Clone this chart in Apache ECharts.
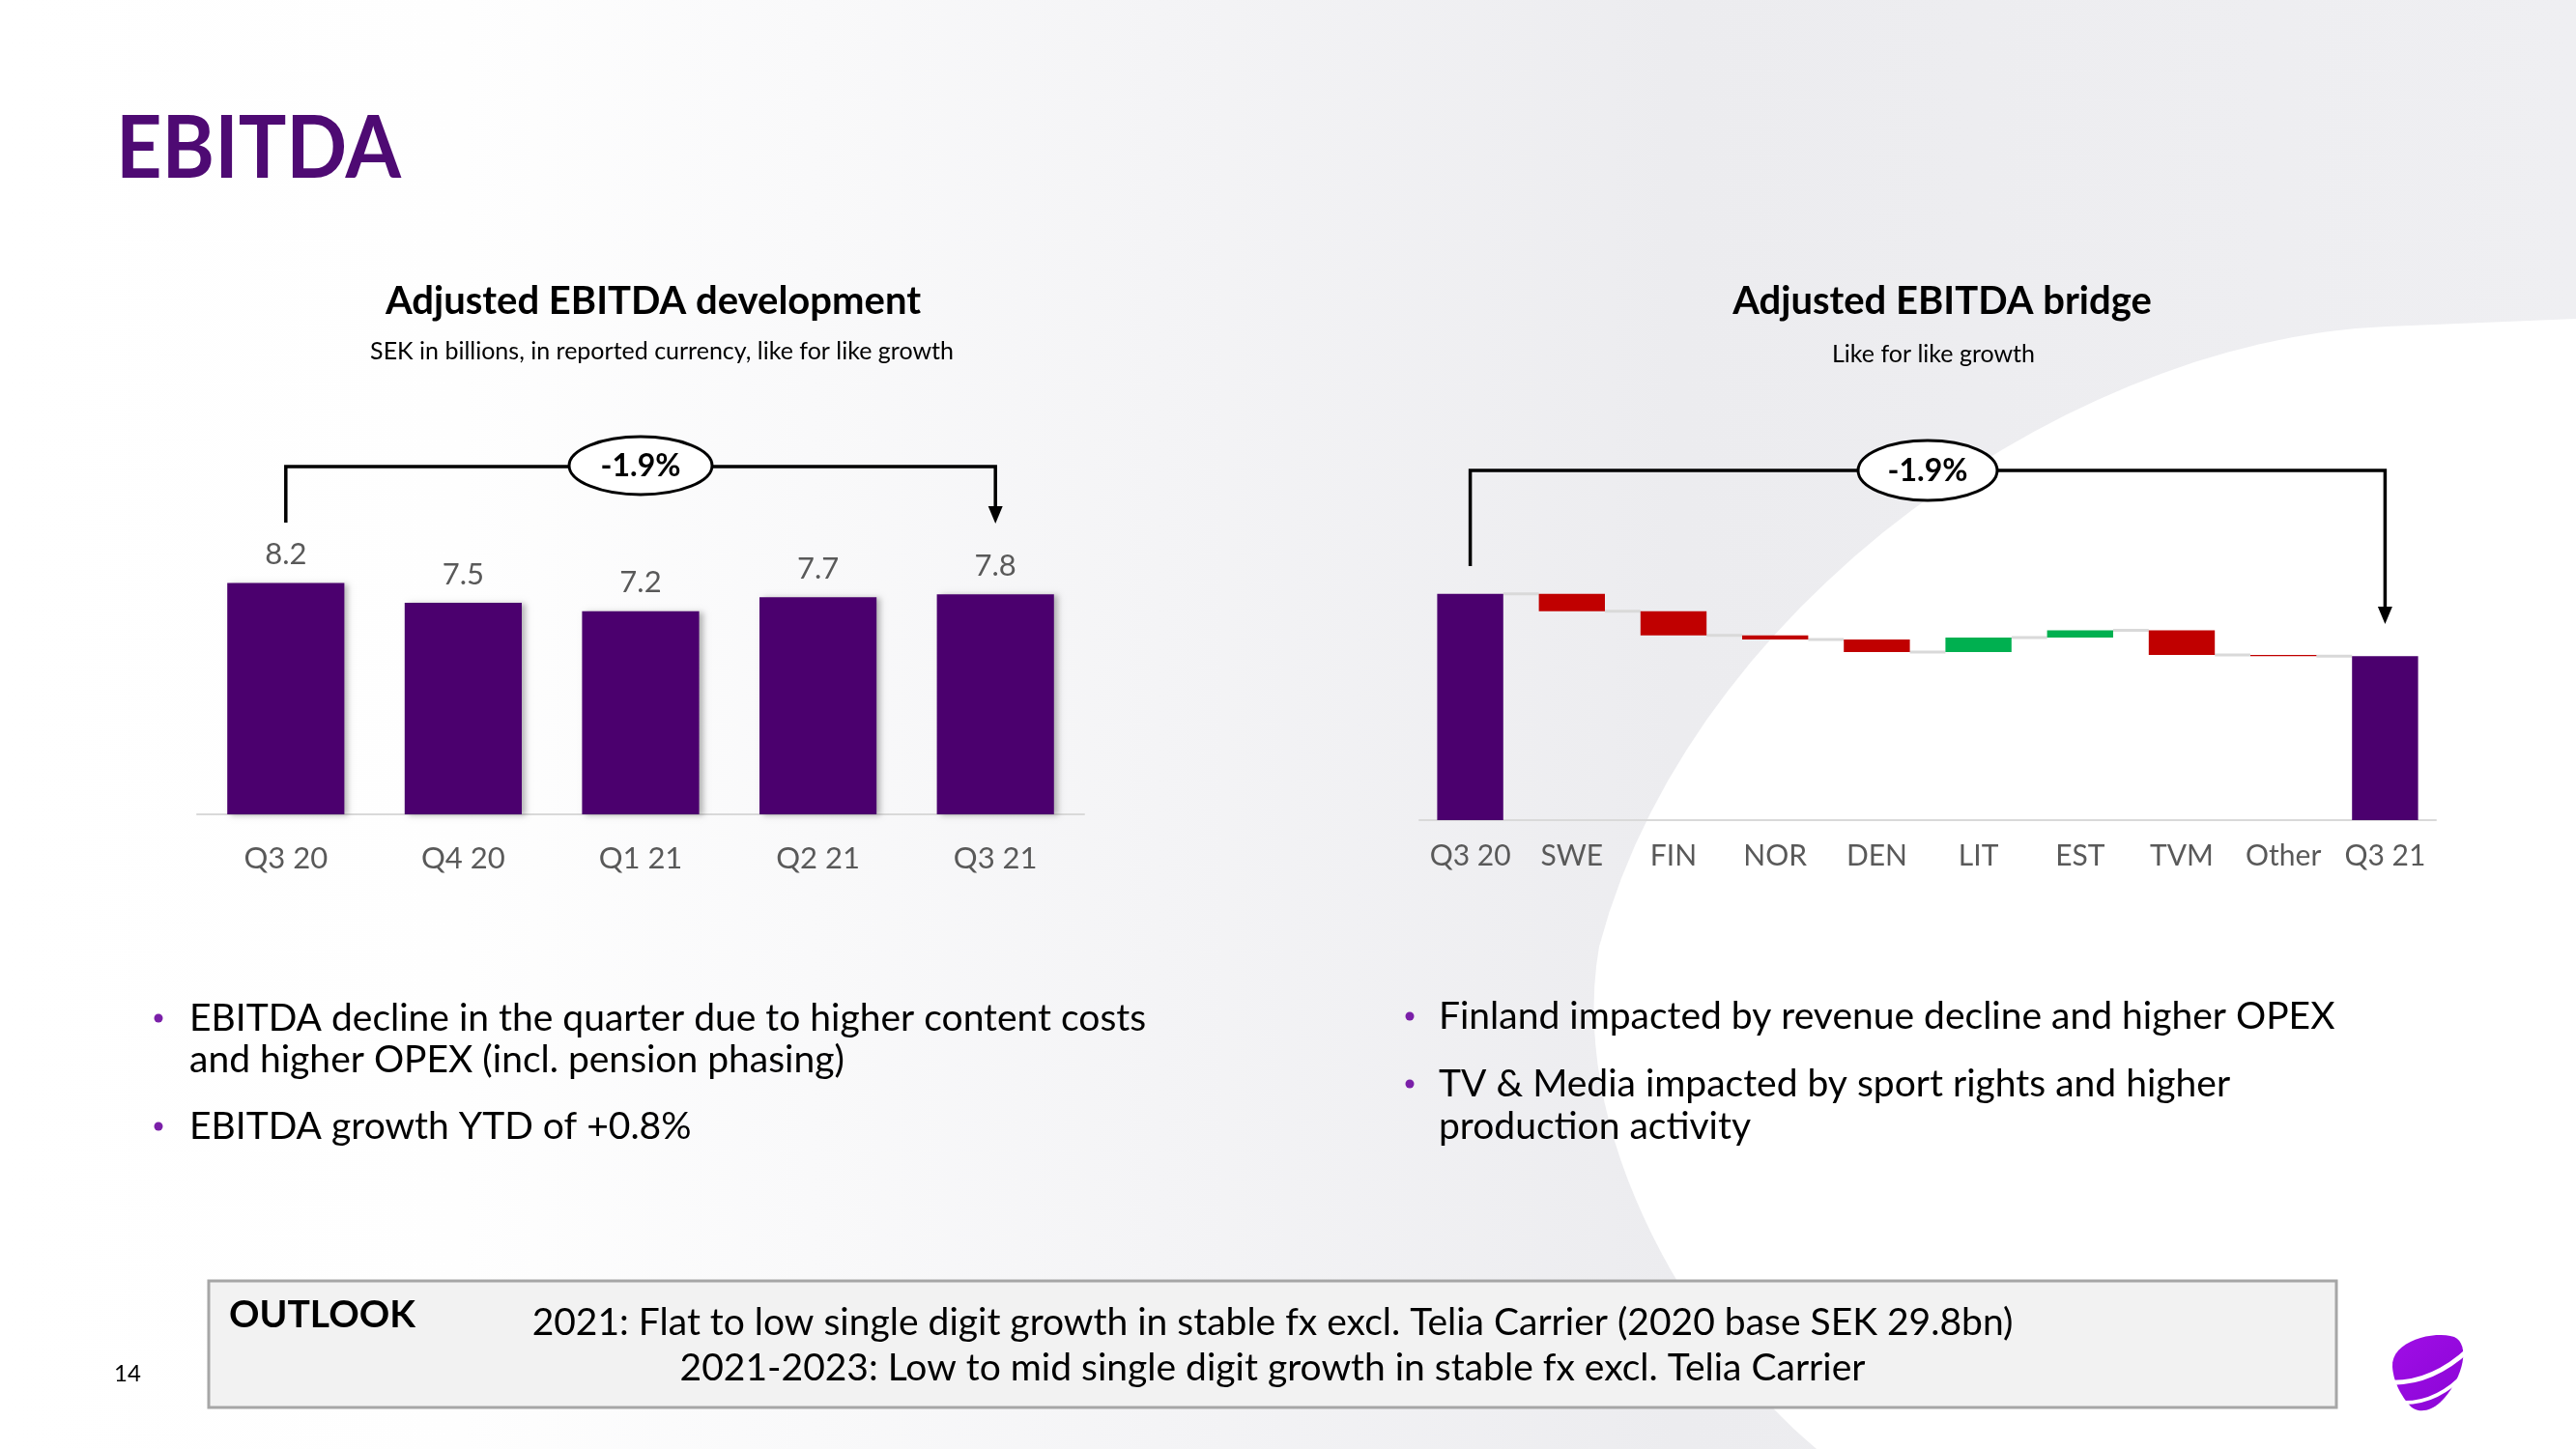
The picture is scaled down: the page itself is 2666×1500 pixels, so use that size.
<!DOCTYPE html>
<html><head><meta charset="utf-8">
<script src="https://cdn.jsdelivr.net/npm/echarts@6/dist/echarts.min.js"></script>
<style>html,body{margin:0;padding:0;background:#fff}#c{width:2666px;height:1500px}</style>
</head><body><div id="c"></div>
<script>
// ---------- data ----------
const devCategories = ['Q3 20', 'Q4 20', 'Q1 21', 'Q2 21', 'Q3 21'];
const devValues = [8.2, 7.5, 7.2, 7.7, 7.8];
const bridgeCategories = ['Q3 20', 'SWE', 'FIN', 'NOR', 'DEN', 'LIT', 'EST', 'TVM', 'Other', 'Q3 21'];
const bridgeStart = 8200;                                   // SEK m (estimated)
const bridgeDeltas = [-43, -60, -10, -31, 36, 18, -61, -3]; // SEK m (estimated)
const bridgeEnd = 8046;
const growthLabel = '-1.9%';
const leftBullets = [
  ['EBITDA decline in the quarter due to higher content costs', 'and higher OPEX (incl. pension phasing)'],
  ['EBITDA growth YTD of +0.8%']
];
const rightBullets = [
  ['Finland impacted by revenue decline and higher OPEX'],
  ['TV & Media impacted by sport rights and higher', 'production activity']
];
const outlookLines = [
  '2021: Flat to low single digit growth in stable fx excl. Telia Carrier (2020 base SEK 29.8bn)',
  '2021-2023: Low to mid single digit growth in stable fx excl. Telia Carrier'
];

// ---------- derived waterfall pieces ----------
const PURPLE = '#4b006e', RED = '#c00000', GREEN = '#00b050', GRAY = '#595959';
const FONT = 'Lato';
const wfBase = [0], wfRed = [0], wfGreen = [0], wfTotal = [bridgeStart], wfLevels = [[0, bridgeStart]];
let run = bridgeStart;
bridgeDeltas.forEach((d, i) => {
  const next = run + d;
  wfBase.push(Math.min(run, next));
  wfRed.push(d < 0 ? -d : 0);
  wfGreen.push(d > 0 ? d : 0);
  wfTotal.push(0);
  run = next;
  wfLevels.push([i + 1, run]);
});
wfBase.push(0); wfRed.push(0); wfGreen.push(0); wfTotal.push(bridgeEnd);

const chart = echarts.init(document.getElementById('c'), null, {width: 2666, height: 1500});
const BW = '65%';
chart.setOption({
  animation: false,
  grid: [
    {left: 204, width: 918, top: 551, height: 292},
    {left: 1469, width: 1052, top: 552, height: 297}
  ],
  xAxis: [
    {type: 'category', gridIndex: 0, data: devCategories,
     axisLine: {lineStyle: {color: '#d9d9d9', width: 2}}, axisTick: {show: false},
     axisLabel: {color: GRAY, fontSize: 31, fontFamily: FONT, margin: 30}},
    {type: 'category', gridIndex: 1, data: bridgeCategories,
     axisLine: {lineStyle: {color: '#d9d9d9', width: 2}}, axisTick: {show: false},
     axisLabel: {color: GRAY, fontSize: 30, fontFamily: FONT, margin: 22, interval: 0}}
  ],
  yAxis: [
    {type: 'value', gridIndex: 0, min: 0, max: 10, show: false, splitLine: {show: false}},
    {type: 'value', gridIndex: 1, min: 7640, max: 8350, show: false, splitLine: {show: false}}
  ],
  series: [
    {type: 'bar', xAxisIndex: 0, yAxisIndex: 0, data: devValues, barWidth: '66%',
     itemStyle: {color: PURPLE, shadowColor: 'rgba(0,0,0,0.28)', shadowBlur: 6, shadowOffsetX: 4, shadowOffsetY: 1},
     label: {show: true, position: 'top', distance: 14, color: GRAY, fontSize: 31, fontFamily: FONT,
             formatter: p => p.value.toFixed(1)}},
    {type: 'bar', name: 'base', xAxisIndex: 1, yAxisIndex: 1, stack: 'wf', data: wfBase, barWidth: BW, clip: true,
     itemStyle: {color: 'rgba(0,0,0,0)'}},
    {type: 'bar', name: 'decrease', xAxisIndex: 1, yAxisIndex: 1, stack: 'wf', data: wfRed, barWidth: BW, clip: true,
     itemStyle: {color: RED}},
    {type: 'bar', name: 'increase', xAxisIndex: 1, yAxisIndex: 1, stack: 'wf', data: wfGreen, barWidth: BW, clip: true,
     itemStyle: {color: GREEN}},
    {type: 'bar', name: 'total', xAxisIndex: 1, yAxisIndex: 1, stack: 'wf', data: wfTotal, barWidth: BW, clip: true,
     itemStyle: {color: PURPLE}},
    {type: 'custom', xAxisIndex: 1, yAxisIndex: 1, data: wfLevels.slice(0, bridgeCategories.length - 1), z: 1,
     renderItem: (params, api) => {
       const i = api.value(0), lvl = api.value(1);
       const p1 = api.coord([i, lvl]), p2 = api.coord([i + 1, lvl]);
       const hw = api.size([1, 0])[0] * 0.65 / 2;
       return {type: 'line', shape: {x1: p1[0] + hw, y1: p1[1], x2: p2[0] - hw, y2: p1[1]},
               style: {stroke: '#d9d9d9', lineWidth: 3}};
     }}
  ]
});

// ---------- decorations ----------
function bez(p0, p1, p2, p3, n) {
  const pts = [];
  for (let k = 0; k <= n; k++) {
    const t = k / n, u = 1 - t;
    pts.push([u*u*u*p0[0] + 3*u*u*t*p1[0] + 3*u*t*t*p2[0] + t*t*t*p3[0],
              u*u*u*p0[1] + 3*u*u*t*p1[1] + 3*u*t*t*p2[1] + t*t*t*p3[1]]);
  }
  return pts;
}
const whiteShape = [[2666, 330], [2470, 338]]
  .concat(bez([2470, 338], [2150, 350], [1750, 620], [1655, 980], 30))
  .concat(bez([1655, 980], [1620, 1180], [1760, 1400], [1880, 1500], 30))
  .concat([[2666, 1500]]);
const pebble = []
  .concat(bez([2476, 1415], [2474, 1388], [2520, 1377], [2540, 1384], 16))
  .concat(bez([2540, 1384], [2557, 1392], [2549, 1425], [2530, 1447], 16))
  .concat(bez([2530, 1447], [2519, 1460], [2503, 1465], [2494, 1455], 16))
  .concat(bez([2494, 1455], [2485, 1445], [2477, 1430], [2476, 1415], 16));

function txt(text, x, y, font, fill, align, sx) {
  return {type: 'text', x: x, y: y, z: 10, scaleX: sx || 1,
          style: {text: text, font: font, fill: fill || '#000', textAlign: align || 'left', textVerticalAlign: 'middle'}};
}
function bracket(x0, x1, yb, yt, ytip, ey, rx, ry) {
  const cx = (x0 + x1) / 2;
  return [
    {type: 'polyline', z: 10, shape: {points: [[x0, yb], [x0, yt], [x1, yt], [x1, ytip - 16]]},
     style: {stroke: '#000', lineWidth: 3.5, fill: null}},
    {type: 'polygon', z: 10, shape: {points: [[x1 - 7.5, ytip - 18], [x1 + 7.5, ytip - 18], [x1, ytip]]},
     style: {fill: '#000'}},
    {type: 'ellipse', z: 11, shape: {cx: cx, cy: ey, rx: rx, ry: ry},
     style: {fill: '#fff', stroke: '#000', lineWidth: 3}},
    {type: 'text', z: 12, x: cx, y: ey + 1,
     style: {text: growthLabel, font: 'bold 32px ' + FONT, fill: '#000', textAlign: 'center', textVerticalAlign: 'middle'}}
  ];
}

const lx0 = chart.convertToPixel({xAxisIndex: 0}, devCategories[0]);
const lx1 = chart.convertToPixel({xAxisIndex: 0}, devCategories[devCategories.length - 1]);
const rx0 = chart.convertToPixel({xAxisIndex: 1}, bridgeCategories[0]);
const rx1 = chart.convertToPixel({xAxisIndex: 1}, bridgeCategories[bridgeCategories.length - 1]);

const els = [
  {type: 'rect', z: -20, shape: {x: 0, y: 0, width: 2666, height: 1500},
   style: {fill: new echarts.graphic.LinearGradient(0, 0, 1, 0, [
     {offset: 0, color: '#ffffff'}, {offset: 0.18, color: '#fefefe'},
     {offset: 0.45, color: '#f4f4f6'}, {offset: 0.65, color: '#ececef'}, {offset: 1, color: '#efeff2'}])}},
  {type: 'polygon', z: -19, shape: {points: whiteShape}, style: {fill: '#ffffff'}},
  txt('EBITDA', 120, 155, 'bold 90px ' + FONT, '#4e0a73', 'left', 0.92),
  txt('Adjusted EBITDA development', 676, 312, 'bold 40px ' + FONT, '#000', 'center'),
  txt('SEK in billions, in reported currency, like for like growth', 685, 364, '25px ' + FONT, '#000', 'center'),
  txt('Adjusted EBITDA bridge', 2010, 312, 'bold 40px ' + FONT, '#000', 'center'),
  txt('Like for like growth', 2001, 367, '25px ' + FONT, '#000', 'center'),
  txt('14', 132, 1422, '24px ' + FONT, '#000', 'center'),
  {type: 'rect', z: 5, shape: {x: 216, y: 1326, width: 2202, height: 131},
   style: {fill: '#f2f2f2', stroke: '#a6a6a6', lineWidth: 3}},
  txt('OUTLOOK', 237, 1361, 'bold 39px ' + FONT, '#000'),
  txt(outlookLines[0], 1317, 1369, '39px ' + FONT, '#000', 'center'),
  txt(outlookLines[1], 1317, 1416, '39px ' + FONT, '#000', 'center'),
  {type: 'polygon', z: 10, shape: {points: pebble},
   style: {fill: new echarts.graphic.LinearGradient(0, 0, 1, 1, [{offset: 0, color: '#a00ee6'}, {offset: 1, color: '#8a05d6'}])}},
  {type: 'bezierCurve', z: 11, shape: {x1: 2470, y1: 1431, cpx1: 2515, cpy1: 1434, x2: 2555, y2: 1397},
   style: {stroke: '#fff', lineWidth: 5, fill: null}},
  {type: 'bezierCurve', z: 11, shape: {x1: 2484, y1: 1452, cpx1: 2522, cpy1: 1454, x2: 2553, y2: 1420},
   style: {stroke: '#fff', lineWidth: 4, fill: null}}
].concat(bracket(lx0, lx1, 541, 483, 542, 482, 74, 30))
 .concat(bracket(rx0, rx1, 586, 487, 646, 487, 72, 31));

function addBullets(list, dotX, textX, ys) {
  let k = 0;
  list.forEach(lines => {
    lines.forEach((line, j) => {
      const y = ys[k++];
      if (j === 0) els.push({type: 'circle', z: 10, shape: {cx: dotX, cy: y, r: 4.5}, style: {fill: '#7a1fa8'}});
      els.push(txt(line, textX, y, '39px ' + FONT, '#000'));
    });
  });
}
addBullets(leftBullets, 164, 196, [1054, 1097, 1166]);
addBullets(rightBullets, 1459, 1489, [1052, 1122, 1166]);

chart.setOption({graphic: {elements: els}});
</script></body></html>
